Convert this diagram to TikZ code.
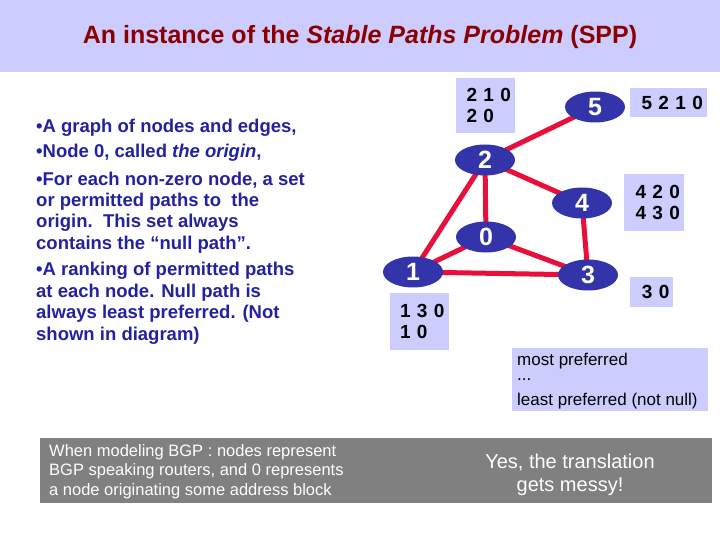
\documentclass[tikz,border=0pt]{standalone}
\usepackage{fontspec}
\setmainfont{Liberation Sans}
\usetikzlibrary{shapes.geometric,backgrounds}
\definecolor{lav}{HTML}{CCCCFF}
\definecolor{nblue}{HTML}{3333AA}
\definecolor{tblue}{HTML}{2222A0}
\definecolor{ered}{HTML}{E8103A}
\definecolor{tred}{HTML}{8B0000}
\definecolor{gbox}{HTML}{808080}
\tikzset{
 gnode/.style={ellipse,fill=nblue,minimum width=60pt,minimum height=31pt,inner sep=0pt,text=white,font=\fontsize{25}{25}\selectfont\bfseries},
 edge/.style={draw=ered,line width=5pt},
 lbl/.style={fill=lav,anchor=north west,inner sep=0pt,align=left,font=\fontsize{19}{22}\selectfont\bfseries},
 bul/.style={anchor=west,inner sep=0pt,text=tblue,font=\fontsize{18.5}{20}\selectfont\bfseries},
}
\begin{document}
\begin{tikzpicture}[x=1pt,y=-1pt]
\useasboundingbox (0,0) rectangle (720,540);
\node[fill=lav,anchor=north west,minimum width=720pt,minimum height=72pt,inner sep=0pt] (band) at (0,0) {};
\node[text=tred,font=\fontsize{25}{25}\selectfont\bfseries] (title) at (360,37) {An instance of the \textit{Stable Paths Problem} (SPP)};
% bullets
\node[bul] (b1) at (36,128) {\textbullet A graph of nodes and edges,};
\node[bul] (b2) at (36,153) {\textbullet Node 0, called \textit{the origin},};
\node[bul] (b3) at (36,180) {\textbullet For each non-zero node, a set};
\node[bul] (b4) at (36,202) {or permitted paths to\ \ the};
\node[bul] (b5) at (36,223) {origin.\ \ This set always};
\node[bul] (b6) at (36,245) {contains the “null path”.};
\node[bul] (b7) at (36,271) {\textbullet A ranking of permitted paths};
\node[bul] (b8) at (36,293) {at each node. Null path is};
\node[bul] (b9) at (36,314) {always least preferred. (Not};
\node[bul] (b10) at (36,336) {shown in diagram)};
% label boxes
\node[lbl,minimum width=59pt,minimum height=55pt] (l2) at (456,78) {\hspace*{6pt}2\,\,1\,\,0\\[-1pt]\hspace*{6pt}2\,\,0};
\node[lbl,minimum width=77pt,minimum height=29pt] (l5) at (630,88) {\hspace*{7pt}5\,\,2\,\,1\,\,0};
\node[lbl,minimum width=60pt,minimum height=57pt] (l4) at (624,174) {\hspace*{7pt}4\,\,2\,\,0\\[-1pt]\hspace*{7pt}4\,\,3\,\,0};
\node[lbl,minimum width=43pt,minimum height=30pt] (l3) at (630,277) {\hspace*{8pt}3\,\,0};
\node[lbl,minimum width=59pt,minimum height=57pt] (l1) at (390,293) {\hspace*{5pt}1\,\,3\,\,0\\[-1pt]\hspace*{5pt}1\,\,0};
% graph
\node[gnode] (n2) at (485,160) {2};
\node[gnode] (n5) at (595,107) {5};
\node[gnode] (n4) at (582,203) {4};
\node[gnode] (n0) at (486,237) {0};
\node[gnode] (n1) at (413,272) {1};
\node[gnode] (n3) at (588,275) {3};
\begin{scope}[on background layer]
\draw[edge] (n2.center) -- (n5.center);
\draw[edge] (n2.center) -- (n4.center);
\draw[edge] (n2.center) -- (n0.center);
\draw[edge] (n2.center) -- (n1.center);
\draw[edge] (n0.center) -- (n1.center);
\draw[edge] (n0.center) -- (n3.center);
\draw[edge] (n1.center) -- (n3.center);
\draw[edge] (n4.center) -- (n3.center);
\end{scope}
% legend
\node[fill=lav,anchor=north west,minimum width=196pt,minimum height=63pt,inner sep=0pt] (leg) at (512,348) {};
\node[anchor=west,inner sep=0pt,font=\fontsize{17}{17}\selectfont] (lg1) at (517,361) {most preferred};
\node[anchor=west,inner sep=0pt,font=\fontsize{17}{17}\selectfont] (lg2) at (517,380) {...};
\node[anchor=west,inner sep=0pt,font=\fontsize{17}{17}\selectfont] (lg3) at (517,401) {least preferred (not null)};
% bottom box
\node[fill=gbox,anchor=north west,minimum width=672pt,minimum height=65pt,inner sep=0pt] (bot) at (40,438) {};
\node[anchor=west,inner sep=0pt,text=white,font=\fontsize{16.5}{16}\selectfont] (bt1) at (49,452) {When modeling BGP : nodes represent};
\node[anchor=west,inner sep=0pt,text=white,font=\fontsize{16.5}{16}\selectfont] (bt2) at (49,471) {BGP speaking routers, and 0 represents};
\node[anchor=west,inner sep=0pt,text=white,font=\fontsize{16.5}{16}\selectfont] (bt3) at (49,491) {a node originating some address block};
\node[text=white,font=\fontsize{20}{23}\selectfont,align=center] (yes) at (570,475) {Yes, the translation\\gets messy!};
\end{tikzpicture}
\end{document}
